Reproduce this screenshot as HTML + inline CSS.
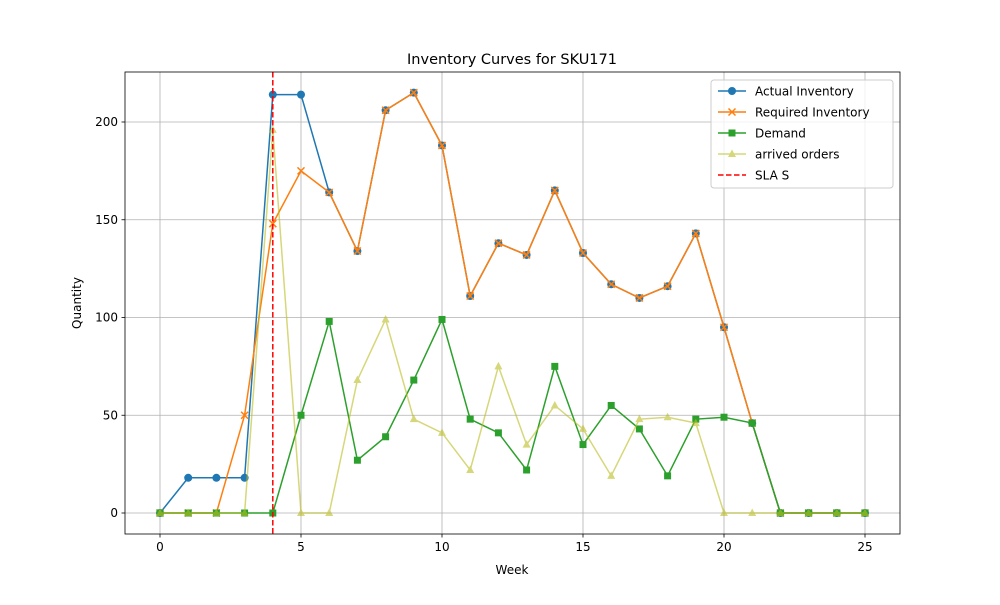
<!DOCTYPE html>
<html><head><meta charset="utf-8"><style>
body{margin:0;background:#fff;font-family:"Liberation Sans","DejaVu Sans",sans-serif}
svg text{font-family:"DejaVu Sans","Liberation Sans",sans-serif}
</style></head><body>
<svg id="c" width="1000" height="600" xmlns="http://www.w3.org/2000/svg"></svg>
<script>
const weeks=[0,1,2,3,4,5,6,7,8,9,10,11,12,13,14,15,16,17,18,19,20,21,22,23,24,25];
const actualInventory=[0,18,18,18,214,214,164,134,206,215,188,111,138,132,165,133,117,110,116,143,95,46,0,0,0,0];
const requiredInventory=[0,0,0,50,148,175,164,134,206,215,188,111,138,132,165,133,117,110,116,143,95,46,0,0,0,0];
const demand=[0,0,0,0,0,50,98,27,39,68,99,48,41,22,75,35,55,43,19,48,49,46,0,0,0,0];
const arrivedOrders=[0,0,0,0,196,0,0,68,99,48,41,22,75,35,55,43,19,48,49,46,0,0,0,0,0,0];
const slaWeek=4;
const xTicks=[0,5,10,15,20,25];
const yTicks=[0,50,100,150,200];

const L=125,R=900,T=72,B=534;
const x=v=>160+(v-0)*(865-160)/25;
const y=v=>513-v*(513-122)/200;
const svg=document.getElementById('c');
const NS='http://www.w3.org/2000/svg';
function mk(tag,attrs,parent){const e=document.createElementNS(NS,tag);for(const k in attrs)e.setAttribute(k,attrs[k]);(parent||svg).appendChild(e);return e;}
function txt(s,attrs,parent){const e=mk('text',attrs,parent);e.textContent=s;return e;}

// grid
xTicks.forEach(t=>{const g=mk('line',{x1:x(t),x2:x(t),y1:T,y2:B,stroke:'#b0b0b0','stroke-width':0.8});
});
yTicks.forEach(t=>{const g=mk('line',{x1:L,x2:R,y1:y(t),y2:y(t),stroke:'#b0b0b0','stroke-width':0.8});
});

function series(vals,color,marker,name,alpha){
  const g=mk('g',{opacity:alpha||1});
  
  
  mk('polyline',{points:vals.map((v,i)=>x(weeks[i])+','+y(v)).join(' '),fill:'none',stroke:color,'stroke-width':1.5},g);
  vals.forEach((v,i)=>drawMarker(g,marker,x(weeks[i]),y(v),color));
}
function drawMarker(g,m,cx,cy,color){
  if(m==='o')mk('circle',{cx:cx,cy:cy,r:4,fill:color},g);
  else if(m==='x'){mk('path',{d:`M${cx-3.5},${cy-3.5}L${cx+3.5},${cy+3.5}M${cx-3.5},${cy+3.5}L${cx+3.5},${cy-3.5}`,stroke:color,'stroke-width':1.5},g);}
  else if(m==='s')mk('rect',{x:cx-3.5,y:cy-3.5,width:7,height:7,fill:color},g);
  else if(m==='^')mk('path',{d:`M${cx},${cy-4.5}L${cx+4},${cy+3}L${cx-4},${cy+3}Z`,fill:color},g);
}
series(actualInventory,'#1f77b4','o','actual-inventory-series');
series(requiredInventory,'#ff7f0e','x','required-inventory-series');
series(demand,'#2ca02c','s','demand-series');
series(arrivedOrders,'#bcbd22','^','arrived-orders-series',0.6);
const sla=mk('line',{x1:x(slaWeek),x2:x(slaWeek),y1:T,y2:B,stroke:'#ff0000','stroke-width':1.5,'stroke-dasharray':'5.5,2.5'});


// frame
mk('rect',{x:L,y:T,width:R-L,height:B-T,fill:'none',stroke:'#000','stroke-width':0.8});
xTicks.forEach(t=>{mk('line',{x1:x(t),x2:x(t),y1:B,y2:B+3.5,stroke:'#000','stroke-width':0.8});
const e=txt(t,{x:x(t),y:B+17,'font-size':12,'text-anchor':'middle'});});
yTicks.forEach(t=>{mk('line',{x1:L-3.5,x2:L,y1:y(t),y2:y(t),stroke:'#000','stroke-width':0.8});
const e=txt(t,{x:L-7,y:y(t)+4,'font-size':12,'text-anchor':'end'});});

let e=txt('Inventory Curves for SKU171',{x:512,y:64,'font-size':14.5,'text-anchor':'middle'});

e=txt('Week',{x:512,y:574,'font-size':12,'text-anchor':'middle'});

e=txt('Quantity',{x:81,y:303,'font-size':12,'text-anchor':'middle',transform:'rotate(-90 81 303)'});


// legend
const lg=mk('g',{});

mk('rect',{x:711,y:80,width:182,height:108,rx:3,fill:'#fff','fill-opacity':0.8,stroke:'#ccc'},lg);
const entries=[['Actual Inventory','#1f77b4','o',1],['Required Inventory','#ff7f0e','x',1],['Demand','#2ca02c','s',1],['arrived orders','#bcbd22','^',0.6],['SLA S','#ff0000','-',1]];
entries.forEach((en,i)=>{
  const cy=91+i*21;
  const g=mk('g',{opacity:en[3]},lg);
  
  if(en[2]==='-')mk('line',{x1:718,x2:746,y1:cy,y2:cy,stroke:en[1],'stroke-width':1.5,'stroke-dasharray':'5.5,2.5'},g);
  else{mk('line',{x1:718,x2:746,y1:cy,y2:cy,stroke:en[1],'stroke-width':1.5},g);drawMarker(g,en[2],732,cy,en[1]);}
  const t=txt(en[0],{x:755,y:cy+4.5,'font-size':12},lg);
});
</script>
</body></html>
